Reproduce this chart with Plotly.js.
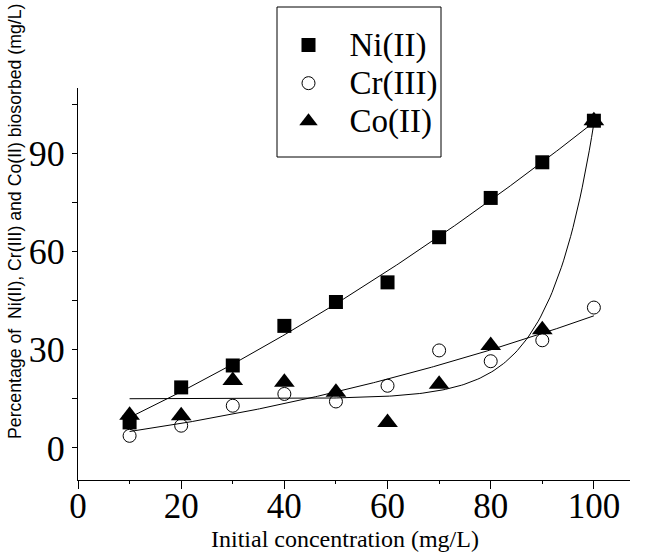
<!DOCTYPE html>
<html>
<head>
<meta charset="utf-8">
<script src="https://cdn.plot.ly/plotly-3.0.1.min.js"></script>
<style>html,body{margin:0;padding:0;background:#fff;}#chart{width:645px;height:552px;}</style>
</head>
<body>
<div id="chart"></div>
<script>
// ---- data ----
var concentration = [10, 20, 30, 40, 50, 60, 70, 80, 90, 100];
var niValues = [7.8, 18.5, 25.2, 37.3, 44.6, 50.6, 64.4, 76.4, 87.3, 100];
var crValues = [3.7, 6.8, 12.9, 16.5, 14.2, 19.0, 29.8, 26.5, 32.9, 42.9];
var coValues = [10.0, 9.8, 20.6, 20.1, 17.0, 7.8, 19.5, 31.3, 36.1, 100];
var seriesNames = ['Ni(II)', 'Cr(III)', 'Co(II)'];
var xTickVals = [0, 20, 40, 60, 80, 100];
var yTickVals = [0, 30, 60, 90];

// ---- fits computed from the data ----
function solve3(M, v) {
  var A = M.map(function (r, i) { return r.concat([v[i]]); });
  for (var i = 0; i < 3; i++) {
    var p = i;
    for (var r = i + 1; r < 3; r++) if (Math.abs(A[r][i]) > Math.abs(A[p][i])) p = r;
    var t = A[i]; A[i] = A[p]; A[p] = t;
    for (var r2 = 0; r2 < 3; r2++) {
      if (r2 === i) continue;
      var f = A[r2][i] / A[i][i];
      for (var c = i; c < 4; c++) A[r2][c] -= f * A[i][c];
    }
  }
  return [A[0][3] / A[0][0], A[1][3] / A[1][1], A[2][3] / A[2][2]];
}
function quadFit(xs, ys) {
  var S = [0, 0, 0, 0, 0], T = [0, 0, 0];
  xs.forEach(function (x, i) {
    for (var k = 0; k < 5; k++) S[k] += Math.pow(x, k);
    for (var j = 0; j < 3; j++) T[j] += ys[i] * Math.pow(x, j);
  });
  var c = solve3([[S[0], S[1], S[2]], [S[1], S[2], S[3]], [S[2], S[3], S[4]]], T);
  return function (x) { return c[0] + c[1] * x + c[2] * x * x; };
}
function expFit(xs, ys) {
  var xm = Math.max.apply(null, xs), best = null;
  for (var k = 0.005; k <= 0.5; k += 0.0005) {
    var n = xs.length, su = 0, suu = 0, sy = 0, suy = 0;
    xs.forEach(function (x, i) { var u = Math.exp(k * (x - xm)); su += u; suu += u * u; sy += ys[i]; suy += u * ys[i]; });
    var B = (n * suy - su * sy) / (n * suu - su * su), y0 = (sy - B * su) / n, sse = 0;
    xs.forEach(function (x, i) { var r = ys[i] - (y0 + B * Math.exp(k * (x - xm))); sse += r * r; });
    if (!best || sse < best.sse) best = { sse: sse, k: k, B: B, y0: y0 };
  }
  return function (x) { return best.y0 + best.B * Math.exp(best.k * (x - xm)); };
}
function sample(fn, x0, x1) {
  var xs = [], ys = [];
  for (var i = 0; i <= 200; i++) { var x = x0 + (x1 - x0) * i / 200; xs.push(x); ys.push(fn(x)); }
  return { x: xs, y: ys };
}
var niFit = sample(quadFit(concentration, niValues), 10, 100);
var crFit = sample(quadFit(concentration, crValues), 10, 100);
var coFit = sample(expFit(concentration, coValues), 10, 100);

function legendLabel(s) { return '<span style="font-size:33px">' + s + '</span>'; }

var lineStyle = { color: '#000', width: 1 };
var traces = [
  { x: niFit.x, y: niFit.y, mode: 'lines', line: lineStyle, showlegend: false, hoverinfo: 'skip' },
  { x: crFit.x, y: crFit.y, mode: 'lines', line: lineStyle, showlegend: false, hoverinfo: 'skip' },
  { x: coFit.x, y: coFit.y, mode: 'lines', line: lineStyle, showlegend: false, hoverinfo: 'skip' },
  { x: concentration, y: niValues, mode: 'markers', name: legendLabel(seriesNames[0]),
    marker: { symbol: 'square', size: 14, color: '#000' } },
  { x: concentration, y: crValues, mode: 'markers', name: legendLabel(seriesNames[1]),
    marker: { symbol: 'circle-open', size: 13, color: '#000', line: { color: '#000', width: 1 } } },
  { x: concentration, y: coValues, mode: 'markers', name: legendLabel(seriesNames[2]),
    marker: { symbol: 'triangle-up', size: 18, color: '#000' } }
];

var L = 78, R = 15, T = 88, B = 72, W = 645, H = 552;
var pw = W - L - R, ph = H - T - B;
function px(x) { return (x - L) / pw; }
function py(y) { return (H - B - y) / ph; }

var serif = 'Liberation Serif';
var layout = {
  width: W, height: H,
  margin: { l: L, r: R, t: T, b: B, pad: 0 },
  paper_bgcolor: '#fff', plot_bgcolor: '#fff',
  showlegend: true,
  legend: {
    x: px(267.5), y: py(21), xanchor: 'left', yanchor: 'top',
    bgcolor: 'rgba(0,0,0,0)', borderwidth: 0,
    font: { family: serif, size: 27, color: '#000' },
    itemwidth: 72
  },
  xaxis: {
    range: [0, 107], showgrid: false, zeroline: false,
    showline: true, linecolor: '#000', linewidth: 1,
    ticks: 'outside', ticklen: 8, tickcolor: '#000', tickwidth: 1,
    tickmode: 'array', tickvals: xTickVals, ticktext: xTickVals.map(String),
    minor: { tickmode: 'array', tickvals: [10, 30, 50, 70, 90], ticks: 'outside', ticklen: 3, tickcolor: '#000' },
    tickfont: { family: serif, size: 35, color: '#000' },
    ticklabelstandoff: -13
  },
  yaxis: {
    range: [-9.8, 110], showgrid: false, zeroline: false,
    showline: true, linecolor: '#000', linewidth: 1,
    ticks: 'outside', ticklen: 5, tickcolor: '#000', tickwidth: 1,
    tickmode: 'array', tickvals: yTickVals, ticktext: yTickVals.map(String),
    minor: { tickmode: 'array', tickvals: [15, 45, 75, 105], ticks: 'outside', ticklen: 5, tickcolor: '#000' },
    tickfont: { family: serif, size: 36, color: '#000' }
  },
  shapes: [
    { type: 'rect', xref: 'paper', yref: 'paper', x0: px(277), x1: px(441), y0: py(157), y1: py(7),
      line: { color: '#000', width: 1 }, fillcolor: 'rgba(0,0,0,0)' }
  ],
  annotations: [
    { text: 'Initial concentration (mg/L)', xref: 'paper', yref: 'paper', x: px(345), y: py(539),
      xanchor: 'center', yanchor: 'middle', showarrow: false,
      font: { family: serif, size: 24, color: '#000' } },
    { text: 'Percentage of&nbsp; Ni(II), Cr(III) and Co(II) biosorbed (mg/L)', xref: 'paper', yref: 'paper',
      x: px(15), y: py(222), xanchor: 'center', yanchor: 'middle', textangle: -90, showarrow: false,
      font: { family: 'Liberation Sans', size: 17.7, color: '#000' } }
  ]
};
Plotly.newPlot('chart', traces, layout, { displayModeBar: false, staticPlot: true });
</script>
</body>
</html>
